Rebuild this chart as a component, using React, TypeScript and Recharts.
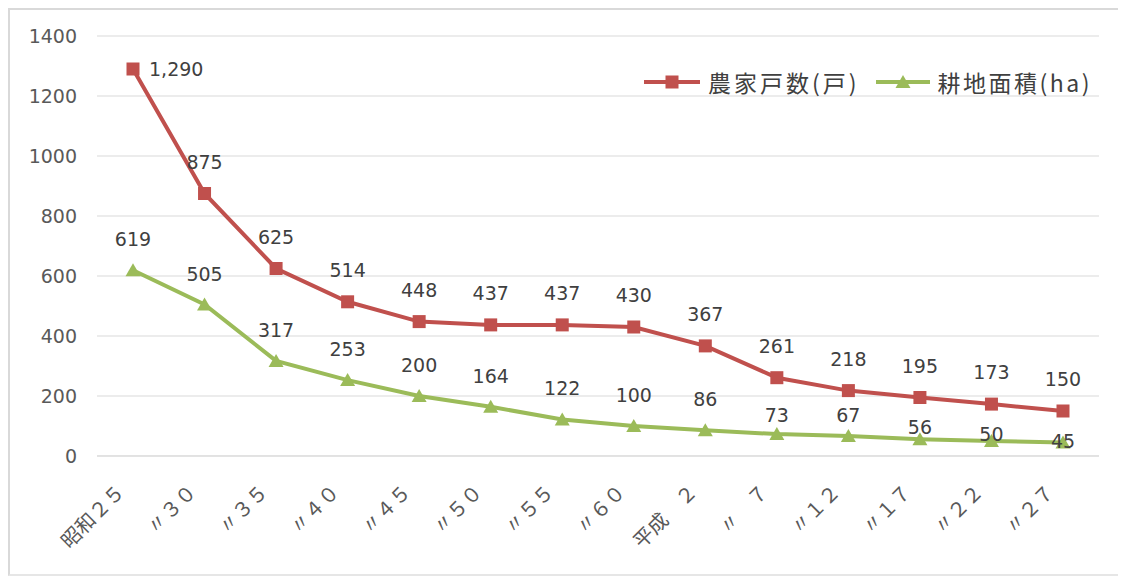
import React from "react";
import { LineChart, Line, XAxis, YAxis, CartesianGrid, LabelList } from "recharts";

// 年次
const years = [
  "昭和２５", "〃３０", "〃３５", "〃４０", "〃４５", "〃５０", "〃５５",
  "〃６０", "平成　２", "〃　７", "〃１２", "〃１７", "〃２２", "〃２７",
];
// 農家戸数(戸)
const households = [1290, 875, 625, 514, 448, 437, 437, 430, 367, 261, 218, 195, 173, 150];
// 耕地面積(ha)
const farmland = [619, 505, 317, 253, 200, 164, 122, 100, 86, 73, 67, 56, 50, 45];
const yTicks = [0, 200, 400, 600, 800, 1000, 1200, 1400];

const RED = "#C0504D";
const GREEN = "#9BBB59";
const NUM_FONT = "'DejaVu Sans', sans-serif";
const JP_FONT = "'Noto Sans CJK JP', sans-serif";

const data = years.map((year, i) => ({ year, households: households[i], farmland: farmland[i] }));

// label nudges copied from the original layout (px, baseline relative to point)
const greenLabelDy = [-24, -24, -24, -24, -24, -24, -24, -24, -24, -12, -14, -5, 0, 5];

const SquareDot = (props: any) => {
  const { cx, cy, index } = props;
  if (cx == null || cy == null) return null;
  return <rect key={`sq-${index}`} x={cx - 6.5} y={cy - 6.5} width={13} height={13} fill={RED} />;
};

const TriangleDot = (props: any) => {
  const { cx, cy, index } = props;
  if (cx == null || cy == null) return null;
  return (
    <path
      key={`tr-${index}`}
      d={`M${cx},${cy - 7} L${cx + 7.5},${cy + 6} L${cx - 7.5},${cy + 6} Z`}
      fill={GREEN}
    />
  );
};

const fmt = (v: number) => v.toLocaleString("en-US");

const RedLabel = (props: any) => {
  const { x, y, value, index } = props;
  const first = index === 0;
  return (
    <text
      x={first ? x + 16 : x}
      y={first ? y + 7 : y - 25}
      textAnchor={first ? "start" : "middle"}
      fontFamily={NUM_FONT}
      fontSize={19}
      fill="#404040"
    >
      {fmt(value)}
    </text>
  );
};

const GreenLabel = (props: any) => {
  const { x, y, value, index } = props;
  return (
    <text x={x} y={y + greenLabelDy[index]} textAnchor="middle" fontFamily={NUM_FONT} fontSize={19} fill="#404040">
      {fmt(value)}
    </text>
  );
};

const YearTick = (props: any) => {
  const { x, y, payload } = props;
  const ax = x - 7;
  const ay = y + 29;
  return (
    <text
      x={ax}
      y={ay}
      transform={`rotate(-45, ${ax}, ${ay})`}
      textAnchor="end"
      fontFamily={JP_FONT}
      fontSize={20}
      fill="#595959"
    >
      {payload.value}
    </text>
  );
};

const ChartLegend = () => (
  <div
    style={{
      position: "absolute",
      top: 55,
      left: 634,
      display: "flex",
      alignItems: "center",
      fontFamily: JP_FONT,
      fontSize: 23,
      color: "#404040",
      whiteSpace: "nowrap",
    }}
  >
    <svg width={60} height={20}>
      <line x1={0} y1={10} x2={56} y2={10} stroke={RED} strokeWidth={4} />
      <rect x={21.5} y={3.5} width={13} height={13} fill={RED} />
    </svg>
    <span style={{ marginLeft: 4, letterSpacing: 3 }}>農家戸数(戸)</span>
    <svg width={60} height={20} style={{ marginLeft: 16 }}>
      <line x1={0} y1={10} x2={54} y2={10} stroke={GREEN} strokeWidth={4} />
      <path d="M27,3 L34.5,16 L19.5,16 Z" fill={GREEN} />
    </svg>
    <span style={{ marginLeft: 2, letterSpacing: 2.5 }}>耕地面積(ha)</span>
  </div>
);

export default function App() {
  return (
    <div
      style={{
        width: 1118,
        height: 568,
        borderLeft: "2px solid #d9d9d9",
        borderTop: "2px solid #d9d9d9",
        borderBottom: "2px solid #e6e6e6",
        boxSizing: "border-box",
        background: "#fff",
        position: "relative",
      }}
    >
      <LineChart width={1110} height={566} data={data} margin={{ top: 26, right: 21, bottom: 0, left: 0 }}>
        <CartesianGrid vertical={false} stroke="#d9d9d9" strokeWidth={1} />
        <XAxis
          dataKey="year"
          interval={0}
          padding={{ left: 36, right: 36 }}
          height={120}
          tickLine={false}
          axisLine={{ stroke: "#d9d9d9" }}
          tick={<YearTick />}
        />
        <YAxis
          domain={[0, 1400]}
          ticks={yTicks}
          width={87}
          axisLine={false}
          tickLine={false}
          tickMargin={14}
          tick={{ fontFamily: NUM_FONT, fontSize: 19, fill: "#595959" }}
        />
        <Line
          dataKey="households"
          name="農家戸数(戸)"
          stroke={RED}
          strokeWidth={4}
          dot={<SquareDot />}
          activeDot={false}
          isAnimationActive={false}
        >
          <LabelList dataKey="households" content={<RedLabel />} />
        </Line>
        <Line
          dataKey="farmland"
          name="耕地面積(ha)"
          stroke={GREEN}
          strokeWidth={4}
          dot={<TriangleDot />}
          activeDot={false}
          isAnimationActive={false}
        >
          <LabelList dataKey="farmland" content={<GreenLabel />} />
        </Line>
      </LineChart>
      <ChartLegend />
    </div>
  );
}
